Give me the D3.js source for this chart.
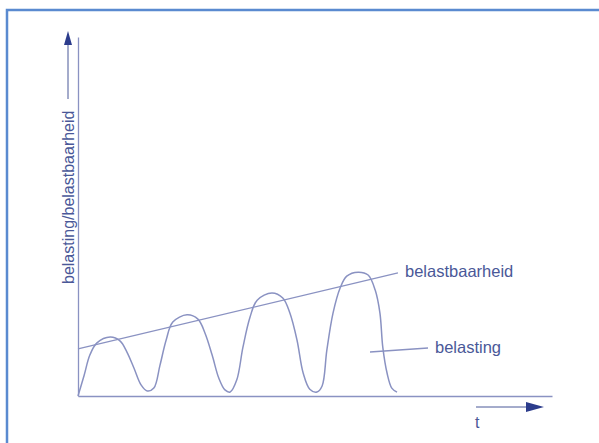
<!DOCTYPE html>
<html><head><meta charset="utf-8">
<script src="https://cdn.jsdelivr.net/npm/d3@7/dist/d3.min.js"></script>
<style>body{margin:0;background:#fff}svg{display:block}</style>
</head><body>
<script>
// belasting (load) curve: time, value
const loadT = [0.00, 0.13, 0.25, 0.40, 0.68, 0.89, 1.03, 1.18, 1.33, 1.46,
  1.60, 1.73, 1.86, 2.00, 2.30, 2.53, 2.68, 2.83, 2.97, 3.10, 3.21,
  3.35, 3.48, 3.63, 3.78, 4.09, 4.32, 4.47, 4.62, 4.75, 4.89, 5.04,
  5.15, 5.25, 5.38, 5.53, 5.67, 5.91, 6.12, 6.27, 6.37, 6.43, 6.52, 6.62, 6.73];
const loadV = [0.00, 0.58, 1.14, 1.48, 1.64, 1.53, 1.23, 0.78, 0.31, 0.14,
  0.22, 0.86, 1.56, 2.06, 2.26, 2.14, 1.75, 1.14, 0.50, 0.17, 0.11,
  0.45, 1.36, 2.20, 2.67, 2.87, 2.73, 2.31, 1.56, 0.64, 0.19, 0.11,
  0.28, 1.28, 2.31, 3.01, 3.34, 3.45, 3.37, 2.95, 2.31, 1.36, 0.64, 0.22, 0.11];
// belastbaarheid (capacity) line
const capT = [0, 6.75];
const capV = [1.31, 3.43];
const labels = {y: "belasting/belastbaarheid", x: "t", cap: "belastbaarheid", load: "belasting"};

const W = 599, H = 443;
const svg = d3.select("body").append("svg").attr("width", W).attr("height", H);
const x = d3.scaleLinear().domain([0, 10]).range([78, 552]);
const y = d3.scaleLinear().domain([0, 10]).range([396, 37]);

const lineCol = "#8a92c2", textCol = "#4a5898", arrowCol = "#2c3c8c";
const font = "Liberation Sans, Arial, sans-serif";

// frame
svg.append("path").attr("d", `M7,${H+5}V10H${W+5}`).attr("fill", "none")
  .attr("stroke", "#5a8ad0").attr("stroke-width", 2.5);

// axes
svg.append("g").attr("transform", `translate(0,${y(0)})`)
  .call(d3.axisBottom(x).ticks(0).tickSize(0).tickSizeOuter(0))
  .call(g => g.select(".domain").attr("stroke", lineCol).attr("stroke-width", 1.3));
svg.append("g").attr("transform", `translate(${x(0)},0)`)
  .call(d3.axisLeft(y).ticks(0).tickSize(0).tickSizeOuter(0))
  .call(g => g.select(".domain").attr("stroke", lineCol).attr("stroke-width", 1.3));

// capacity line
const ln = d3.line().x(d => x(d[0])).y(d => y(d[1]));
svg.append("path").attr("d", ln(d3.zip(capT, capV))).attr("fill", "none")
  .attr("stroke", lineCol).attr("stroke-width", 1.3);

// load curve
const lc = d3.line().x(d => x(d[0])).y(d => y(d[1])).curve(d3.curveCatmullRom.alpha(0.5));
svg.append("path").attr("d", lc(d3.zip(loadT, loadV))).attr("fill", "none")
  .attr("stroke", lineCol).attr("stroke-width", 1.5);

// labels
svg.append("text").attr("x", 405).attr("y", 277).attr("fill", textCol)
  .attr("font-family", font).attr("font-size", 16.5).text(labels.cap);
svg.append("line").attr("x1", 370).attr("y1", 352).attr("x2", 428).attr("y2", 348)
  .attr("stroke", lineCol).attr("stroke-width", 1.3);
svg.append("text").attr("x", 435).attr("y", 353).attr("fill", textCol)
  .attr("font-family", font).attr("font-size", 16.5).text(labels.load);

// y label with arrow
svg.append("text").attr("transform", "translate(74,284) rotate(-90)").attr("fill", textCol)
  .attr("font-family", font).attr("font-size", 16).text(labels.y);
svg.append("line").attr("x1", 68).attr("y1", 99).attr("x2", 68).attr("y2", 40)
  .attr("stroke", textCol).attr("stroke-width", 1);
svg.append("path").attr("d", "M68,31L64,45L72,45Z").attr("fill", arrowCol);

// x label with arrow
svg.append("line").attr("x1", 476).attr("y1", 407).attr("x2", 530).attr("y2", 407)
  .attr("stroke", textCol).attr("stroke-width", 1);
svg.append("path").attr("d", "M544,407L526,402L526,412Z").attr("fill", arrowCol);
svg.append("text").attr("x", 475).attr("y", 428).attr("fill", textCol)
  .attr("font-family", font).attr("font-size", 16).text(labels.x);
</script>
</body></html>
